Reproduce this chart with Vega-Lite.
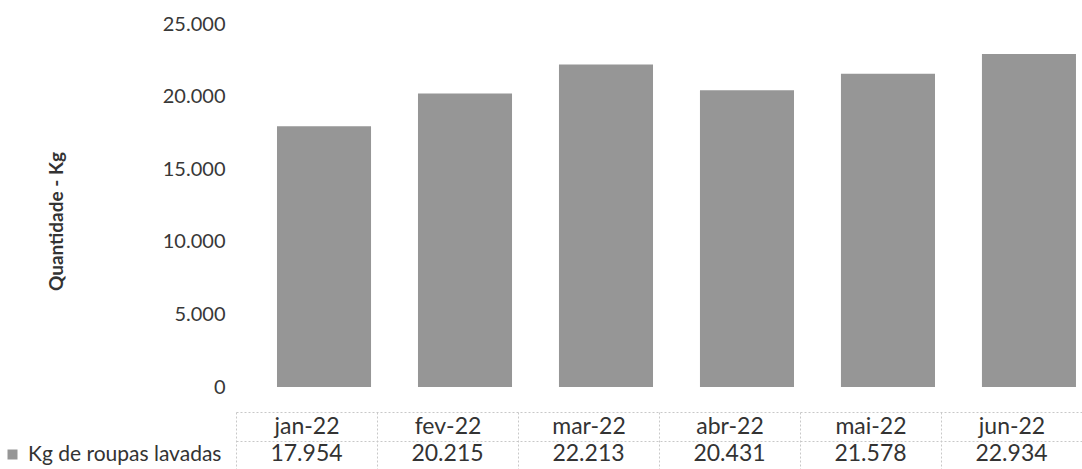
{
  "$schema": "https://vega.github.io/schema/vega-lite/v6.json",
  "width": 846,
  "height": 363,
  "autosize": {"type": "none"},
  "padding": {"left": 236, "top": 24, "right": 0, "bottom": 82},
  "background": "white",
  "config": {
    "font": "Lato",
    "view": {"stroke": null},
    "locale": {"number": {"decimal": ",", "thousands": ".", "grouping": [3], "currency": ["R$", ""]}}
  },
  "data": {
    "values": [
      {"mes": "jan-22", "kg": 17954},
      {"mes": "fev-22", "kg": 20215},
      {"mes": "mar-22", "kg": 22213},
      {"mes": "abr-22", "kg": 20431},
      {"mes": "mai-22", "kg": 21578},
      {"mes": "jun-22", "kg": 22934}
    ]
  },
  "resolve": {"scale": {"x": "independent"}, "axis": {"x": "independent"}},
  "layer": [
    {
      "mark": {"type": "bar"},
      "encoding": {
        "x": {
          "field": "mes", "type": "nominal", "sort": null,
          "scale": {"paddingInner": 0.333, "paddingOuter": 0.1667, "align": 0.872},
          "axis": {"orient": "bottom", "offset": 54, "labels": false, "ticks": false, "title": null, "grid": false,
                   "domainColor": "#c8c8c8", "domainDash": [2, 2], "domainWidth": 1}
        },
        "y": {
          "field": "kg", "type": "quantitative",
          "scale": {"domain": [0, 25000], "nice": false},
          "axis": {
            "values": [0, 5000, 10000, 15000, 20000, 25000],
            "format": ",d",
            "grid": false, "domain": false, "ticks": false,
            "labelFont": "Lato", "labelFontSize": 20, "labelColor": "#383838", "labelPadding": 11,
            "title": "Quantidade - Kg", "titleFont": "Lato", "titleFontSize": 19, "titleFontWeight": "bold",
            "titleColor": "#333333", "titlePadding": 96, "titleY": 197
          }
        },
        "color": {
          "datum": "Kg de roupas lavadas", "type": "nominal",
          "scale": {"range": ["#969696"]},
          "legend": {
            "orient": "none", "legendX": -234, "legendY": 420, "title": null, "padding": 0,
            "symbolType": "square", "symbolSize": 100, "symbolStrokeWidth": 0,
            "labelFont": "Lato", "labelFontSize": 21, "labelColor": "#333333", "labelOffset": 5, "labelLimit": 400
          }
        }
      }
    },
    {
      "mark": {"type": "text", "dy": 67, "fontSize": 23, "color": "#333333", "baseline": "middle", "font": "Lato"},
      "encoding": {
        "x": {
          "field": "mes", "type": "nominal", "sort": null,
          "scale": {"paddingInner": 0, "paddingOuter": 0},
          "axis": {
            "orient": "bottom", "offset": 25, "title": null, "labelAngle": 0, "grid": false,
            "labelFont": "Lato", "labelFontSize": 23, "labelColor": "#333333", "labelPadding": -54,
            "tickBand": "extent", "tickSize": 57, "tickDash": [2, 2], "tickColor": "#c8c8c8", "tickWidth": 1,
            "domainColor": "#c8c8c8", "domainDash": [2, 2], "domainWidth": 1
          }
        },
        "y": {"datum": 0, "type": "quantitative"},
        "text": {"field": "kg", "type": "quantitative", "format": ",d"}
      }
    }
  ]
}
